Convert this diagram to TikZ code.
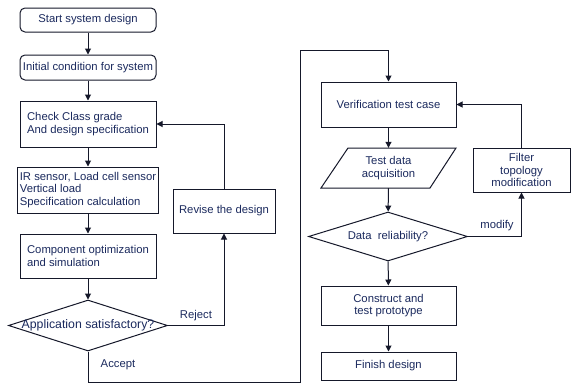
\documentclass[tikz,border=0pt]{standalone}
\usepackage{fontspec}
\setmainfont{Liberation Sans}
\usetikzlibrary{arrows.meta,shapes.geometric}
\definecolor{txt}{HTML}{1B2A5E}
\definecolor{ln}{HTML}{15182A}
\begin{document}
\begin{tikzpicture}[x=1pt,y=-1pt,
  every node/.style={font=\fontsize{11.3}{12.8}\selectfont,text=txt},
  box/.style={draw=ln,line width=1pt,minimum width=136pt,inner sep=2pt},
  rbox/.style={box,rounded corners=5pt},
  lbl/.style={inner sep=1pt},
  arr/.style={draw=ln,line width=1pt,-{Triangle[width=6pt,length=6pt]}},
  ln/.style={draw=ln,line width=1pt},
  dia/.style={shape=diamond,draw=ln,line width=1pt,inner sep=0pt}]
\useasboundingbox (0,0) rectangle (571,383);
\fill[white] (0,0) rectangle (571,383);
% left column
\node[rbox,minimum height=24pt] (start) at (88,20) {Start system design};
\node[rbox,minimum height=25pt] (init) at (88,67.5) {Initial condition for system};
\node[box,minimum height=46pt,align=left] (check) at (88,124) {Check Class grade\\And design specification};
\node[box,minimum height=46pt,align=left] (ir) at (88,190) {IR sensor, Load cell sensor\\Vertical load\\Specification calculation};
\node[box,minimum height=44pt,align=left] (comp) at (88,256) {Component optimization\\and simulation};
\node[dia,minimum width=159pt,minimum height=51pt] (d1) at (88,325.5) {};
\node[lbl,font=\fontsize{12.3}{14}\selectfont] (d1t) at (d1.center) {Application satisfactory?};
\node[box,minimum width=102pt,minimum height=44pt] (rev) at (224,211) {Revise the design};
% right column
\node[box,minimum width=135pt,minimum height=45pt] (ver) at (388.5,104.5) {Verification test case};
\node[inner sep=0pt,minimum width=108pt,minimum height=40pt,align=center] (tda) at (388.5,168) {Test data\\acquisition};
\draw[ln] (348,148) -- (456,148) -- (430,188) -- (321,188) -- cycle;
\node[box,minimum width=97pt,minimum height=44pt,align=center] (fil) at (521.5,170) {Filter\\topology\\modification};
\node[dia,minimum width=159pt,minimum height=49pt] (d2) at (388,236.5) {};
\node[lbl] (d2t) at (d2.center) {Data\ \ reliability?};
\node[box,minimum width=135pt,minimum height=39pt,align=center] (con) at (388.5,305.5) {Construct and\\test prototype};
\node[box,minimum width=135pt,minimum height=28pt] (fin) at (388.5,366) {Finish design};
% labels
\node[lbl] (rej) at (196,316) {Reject};
\node[lbl] (acc) at (118,365) {Accept};
\node[lbl] (mod) at (497,226) {modify};
% connectors
\draw[arr] (start) -- (init);
\draw[arr] (init) -- (check);
\draw[arr] (check) -- (ir);
\draw[arr] (ir) -- (comp);
\draw[arr] (comp) -- (d1);
\draw[arr] (d1.east) -| (rev.south);
\draw[arr] (rev.north) |- (check.east);
\coordinate (c1) at (300,382);
\coordinate (c2) at (300,50);
\draw[arr] (d1.south) |- (c1) -- (c2) -| (ver.north);
\draw[arr] (ver) -- (tda);
\draw[arr] (tda) -- (d2);
\draw[arr] (d2) -- (con);
\draw[arr] (con) -- (fin);
\draw[arr] (d2.east) -| (fil.south);
\draw[arr] (fil.north) |- (ver.east);
\end{tikzpicture}
\end{document}
